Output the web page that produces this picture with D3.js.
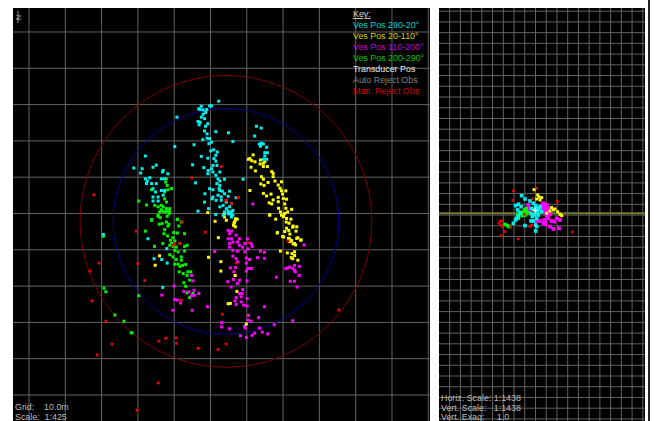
<!DOCTYPE html>
<html><head><meta charset="utf-8">
<script src="https://cdn.jsdelivr.net/npm/d3@7"></script>
<style>html,body{margin:0;padding:0;background:#fff;overflow:hidden}svg{display:block}text{font-family:"Liberation Sans",Arial,sans-serif}</style>
</head><body><svg id="c" width="654" height="421"></svg>
<script>
// Plan view: [easting m, northing m]
const planCyan=[[-2.4,29.4],[-.1,29.5],[.4,29.5],[2.4,30.8],[-2.8,28.5],[-1.9,28.4],[-.9,28.5],[-3.1,28.7],[-1.2,27.7],[-1.9,27.2],[-2.4,26.4],[-1.5,26],[-9.1,26.4],[-3.3,25.2],[-2.7,25],[-.6,24.6],[-3,24.3],[-1.2,23.9],[-1.5,22.6],[-.8,21.8],[1.6,22.4],[5.1,22.1],[-2,20.2],[-.8,20.6],[-.1,20.5],[.4,19.5],[-.3,19.1],[6.3,19.7],[-4.4,18.8],[-9.7,18.3],[.2,17.1],[1,17.4],[2,16.8],[1.6,15.9],[1.1,15],[1.6,14.3],[-2.4,15.6],[-.6,15.1],[-4.8,13.3],[-1.7,12.5],[.8,13.1],[1.9,13.1],[.4,12.2],[-.5,11.7],[-.6,10.8],[.8,11.3],[2.7,11.3],[1.6,10.4],[2.2,9.4],[2.7,8.8],[4,9.3],[9.1,9.3],[-4,8.3],[1.9,8.1],[2.7,7.6],[2.5,6.7],[-.1,6.7],[.8,6.4],[-1.4,5.3],[2.7,6.2],[3.4,6],[4,5.3],[5.4,6],[2.2,4.9],[3.1,4.4],[5,4.6],[7.2,4.2],[.8,4.4],[-1.5,3],[1.7,3.5],[3.1,3.5],[4.5,3],[5.9,2.6],[.6,3.9],[3.6,2.1],[5.4,1.7],[-.4,1.2],[-3.3,.5],[2.7,1.7],[4.5,1.2],[6.3,.7],[4,.3],[1.6,-.4],[5,-.2],[5.9,-.6],[3.6,-.6],[5,.5],[5.9,.3],[5.4,-.2],[6.3,-.6],[5.9,-1.1],
[-17.1,-7.1],[-15.4,-12.6],[-13.3,-12.8],[-11.8,-13.8],[-11.9,-9.8],[-13,-20.5],[-29.4,-5.9],
[-17.8,15.7],[-21,12.4],[-18.7,12.2],[-19.1,11],[-15.7,12.6],[-14.8,13.2],[-13.1,11.3],[-12.9,11.7],[-11.6,10.8],[-17.8,9.4],[-17.3,8.8],[-16.6,9.7],[-17.5,8.1],[-16.1,8.1],[-14.8,8.1],[-15.7,6.7],[-12.5,9.4],[-13.4,9.4],[-15.7,4.4],[-15.7,3.3],[-14.3,3.3],[-15,5.8],[-13.4,6.2],[-12.5,6.2],[-14.3,4.4],[-12.9,4.9],
[12.8,23.9],[14.1,23.4],[12.3,21.2],[14.2,19.2],[13.6,19],[14.7,19],[13.9,18.4],[15.6,18.1],[15.1,16.6],[15.8,16.6],[15.1,15.7],[15.6,14.8],[14.7,14.8]];
const planYellow=[[10.6,14.8],[11,15],[11.9,16],[11.5,14.4],[12.4,14.1],[13.9,14.6],[13.8,13.5],[14.7,13.7],[15.1,14.1],[14.7,12.8],[15.8,12.8],[11.3,12.6],[12.5,11.6],[17,11.4],[17.4,10.9],[14.2,10],[14.7,9.3],[14,8],[14.9,7.6],[17.4,10],[16,8.4],[17.9,8.8],[19.7,8.6],[18.8,7.7],[19.3,6.8],[20.9,6.1],[19.7,6.1],[11,6.2],[14.7,5.4],[16.8,5.2],[15.6,4.7],[20,5.2],[18.8,4.3],[17.4,3.6],[16.3,2.8],[17,2.5],[20.2,4],[21.1,3.8],[18.8,3.1],[20.6,2.5],[20.9,1.3],[18.9,1.3],[22.5,1],[16.5,-.5],[19.7,-.6],[20.6,-.1],[21.1,-1.5],[20.2,-1],[22.3,-1.7],[21.8,-2.8],[22.9,-3.6],[23.9,-3.8],[21.1,-4.2],[20.6,-5.1],[23.7,-5],[18.6,-5.4],[20,-6.5],[22,-5.8],[21.6,-7],[22.5,-7.6],[23.9,-7],[25.1,-7.4],[22.9,-8.5],[22,-7.9],[23.6,-8.8],
[7,-1.9],[6.6,-2.8],[7,-3.8],[7.5,-1.7],[3.9,-.2],[4,-1.1],[4.5,-2],[7,-1.6],[6.8,-2.5],[6.5,-3.4],[1.4,-2.3],[-.6,.1],[2.3,-6.8],[-.4,-12.2],[3,-13.4],[3,-16],[-13.9,-11.8],[-15.1,-14.4],[7.4,-21.6],[5,-25],[5.6,-24.9],[10,-30.6],[6.9,-17.2],
[16.4,-.6],[18.1,-1.7],[18.5,-5.5],[19.4,-10.5],[21.3,-11],[19.4,.3],[20.3,-.6],[21.4,.3],[21,-2.5],[22.8,-3.9],[21.7,-4.8],[20.3,-6.6],[21.9,-7.1],[24.2,-6.8],[25,-7.5],[23.3,-8.4],[22.6,-11.2],[23.3,-11.7],[22.8,-12.6],[24.2,-13],[23.3,-10.7],[22.4,-12.3]];
const planMagenta=[[1.3,-10.6],[5,-4.8],[5.4,-5.7],[5.9,-5],[5,-7.1],[5.9,-7.1],[5.4,-8.4],[6.3,-8],[7.2,-6.1],[8.1,-7.1],[7.6,-8],[10.3,-7.1],[9.6,-8.4],[9,-9.4],[8.1,-8.9],[5.4,-9.4],[6.3,-10.3],[7.6,-10.5],[11.3,-8.4],[11.6,-9.2],[10.5,-9.9],[9.6,-10.7],[6.3,-11.9],[7.2,-12.6],[7.6,-13.5],[10,-12.4],[10.9,-12.8],[10,-13.8],[10.5,-15.3],[11.4,-15.3],[10,-16],[13.9,-10.5],[15,-10.8],[13.1,-12.3],[15,-12.5],[5.6,-15.1],[7,-15],[6.6,-16.2],[7,-17.2],[6.4,-18.3],[8.1,-18.5],[7.6,-19.4],[4.9,-18.9],[5.8,-20.4],[10.2,-18.7],[9,-21.1],[8.8,-22.2],[8.1,-22.2],[8.6,-23.1],[7.2,-23.3],[6.9,-24.2],[10.2,-23.6],[8.6,-24.5],[7.2,-25.2],[15,-25.8],[9.3,-25.4],[10.2,-25.6],[-.7,-25.8],[10.6,-28.2],[10.5,-29.5],[11.3,-29.8],[13.4,-28.8],[3.2,-30.2],[3.2,-31.4],[5.4,-31.9],[9.5,-31.2],[9.7,-31.7],[13.6,-31.7],[17.7,-30.8],[22.8,-29.7],[14.4,-32.8],[15.9,-33.3],[12.3,-33.1],[11.6,-33.7],[8.4,-33.8],[10,-34.3],[18.3,-17.7],[20.9,-15.3],[21.5,-15.1],[25.9,-8.8],[21.9,-14.9],[23.3,-14.4],[22.8,-15.3],[24.6,-14.7],[23.5,-16.2],[24.6,-17.2],[22.1,-18.8],[23.3,-18.8],[24,-20.4],[23.3,-15.8],[11.8,2.5],
[-5.1,-17.2],[-4.7,-18.7],[-9.9,-20.1],[-13.3,-22.6],[-7.2,-21.6],[-5.8,-21.7],[-4.4,-21.3],[-3.1,-22.2],[-5.1,-22.8],[-4.2,-22.7],[-9.7,-23.8],[-9,-24],[-8.1,-24.8],[-10.2,-26.8],[-4.9,-26.8]];
const planGreen=[[-12,9.4],[-12.2,8.5],[-11.8,7.6],[-16.1,6.4],[-10.6,6.7],[-11.6,6.4],[-12.5,5.8],[-12.5,3.9],[-19.6,3.3],[-17.5,2.2],[-12,3],[-15.2,2.1],[-14.3,1.7],[-13.4,2.1],[-12,1.2],[-11.1,1.2],[-13.9,.3],[-12.5,.3],[-11.3,-.2],[-14.3,-.9],[-11.8,-.9],[-16.1,-1.8],[-13.7,-1.3],[-9,-1.7],[-12.9,1.7],[-13.4,.9],[-11.4,.6],
[-14.3,-.6],[-13,.5],[-11.8,.5],[-11.1,.3],[-16.1,-2],[-9,-1.8],[-7.9,-2.5],[-14,-3.1],[-13.2,-2.9],[-12,-2.5],[-11.3,-3.1],[-11.6,-3.6],[-8.6,-3.6],[-17.8,-5],[-12.5,-4.6],[-12.7,-5.7],[-11.7,-6.3],[-9,-5.5],[-7,-5.7],[-10,-5.4],[-10.2,-6.8],[-10.9,-7.5],[-9.7,-7.7],[-13,-8.4],[-10.6,-8.4],[-15.3,-9.2],[-11.1,-8.9],[-10.2,-9.2],[-9.3,-9.4],[-7,-9.2],[-6.3,-8.9],[-8.3,-8.4],[-9.7,-10.3],[-8.8,-10.7],[-7,-10.5],[-11.1,-11.5],[-10.2,-12.1],[-9.3,-12.8],[-7.9,-12.1],[-7.9,-13],[-8.8,-14.1],[-9.7,-14.1],[-8.3,-14.7],[-7.6,-14.4],[-6.7,-14.2],[-8.5,-16.2],[-7.4,-16.7],[-6.1,-16.2],[-5.3,-16.2],[-6.3,-17.2],[-7.2,-19.2],[-5.6,-18.5],[-6.7,-20.2],[-6.3,-22],[-5.6,-23.3],[-4.7,-22.2],[-19.6,-22.8],[-21.7,-33],[-29.4,-6.4],[-29.2,-20.7],[-28.7,-21.7],[-26.2,-28.1],[-23.7,-29.8],[-21.5,-33]];
const planRed=[[-20.3,-5],[-1.3,-5.3],[-7.7,-2.5],[-9.7,-8.4],[-8.3,-8.4],[-10.4,-8.9],[10.5,-8.2],[-19.9,-13.9],[-18,-18.6],[-7.9,-24],[3.4,-27.9],[-14.1,-35.3],[-12.2,-34.5],[-9.3,-34.4],[-9.2,-35.9],[-3.3,-37.3],[4.4,-36.1],[2.2,-37.6],[21.5,-7.7],[7.2,-13.8],[-32,5],[-30.6,-13.8],[-33.1,-16],[-32.5,-24.2],[-28.7,-29.8],[-27,-36.1],[-31.1,-39.1],[3.1,12.8],[-5,9.7],[7.7,4.2],[4.3,3.5],[5.9,2.6],[7.8,4.3],[-14.3,-46.8],[-20.1,-54.3],[35.5,-26.7]];
// Side view: [easting m, height m]
const sideCyan=[[-12.4,17.6],[-9.3,14.5],[-4.7,12.7],[-15.5,9.6],[-18,8.3],[1.6,6.5],[4.7,7.4],[-13,7.4],[-3.1,5.8],[0,4.3],[1.6,1.2],[-14,1.2],[-15.5,-1.9],[-18,-5],[-20.2,-8.1],[1.6,-3.5],[-1.6,-6],[-3.7,-6],[1.6,-11.2],[.6,-15.3],[-9.3,-10.3],[3.1,-.4],[6.2,2.7],[-1.6,10.5],[.6,-9.7],[-.6,-.4],[-2.5,-1.9],[2.5,3.4],[.6,8.3],[-17.1,-3.5],[-16.2,4.3],[-3.7,1.2],[3.7,5.2]];
const sideYellow=[[-.9,23.2],[2.5,18.3],[3.7,16.4],[1.6,14.5],[6.2,15.8],[4.7,13.6],[15.5,6.5],[18.6,5.2],[21.1,2.7],[23.3,.2],[24.9,-1],[17.1,4.3],[14,3.4],[10.9,1.2]];
const sideMagenta=[[-6.2,8.9],[-4.7,5.2],[7.8,10.5],[10.9,8.9],[9.3,5.8],[12.4,5.8],[9.3,2.7],[14,.2],[10.9,-1],[8.7,-5],[9.9,-9.1],[14,-11.2],[17.1,-13.4],[22.4,-12.8],[12.4,-3.5],[15.5,-6],[4.7,-6],[1.6,-6],[20.2,-3.5],[18,-6.6],[23.3,-5],[12.4,1.2],[6.2,5.8],[9.3,-7.2],[7.8,-8.2],[11.8,3.4],[8.7,8.3],[6.8,8.9],[10.9,5.8]];
const sideGreen=[[-28,-9.1],[-25.5,-10.3],[-24.2,-11.2],[-16.2,-.4],[-13,1.2],[-9.9,4.3],[-7.8,5.8],[-6.2,2.7],[-9.3,-.4],[-11.8,-1],[-14,2.1],[-7.8,1.2],[-15.5,-3.5],[-10.9,2.1],[-8.7,3.4]];
const sideRed=[[-20.2,22],[-20.8,13.3],[20.8,12.1],[-2.5,14.5],[1.6,24.5],[34.8,-16.2],[-32.6,-6],[-30.4,-6],[-33.6,-8.1],[-31.7,-9.7],[-30.4,-11.3],[-22.7,-11.3],[-28,-15.9],[-9.9,.2],[-4.7,-11.2],[-3.1,-9.7],[-15.8,-22.7],[-31.7,-19.7]];
const transducer=[[0,4]];
const planGridE=[-50,-40,-30,-20,-10,0,10,20,30,40,50,60];
const planGridN=[50,40,30,20,10,0,-10,-20,-30,-40,-50];
const sideGridE=[-80,-70,-60,-50,-40,-30,-20,-10,0,10,20,30,40,50,60,70,80,90,100];
const sideGridH=[190,180,170,160,150,140,130,120,110,100,90,80,70,60,50,40,30,20,10,0,-10,-20,-30,-40,-50,-60,-70,-80,-90,-100,-110,-120,-130,-140,-150,-160,-170,-180,-190];
const circleCentre=[4.4,-2.3];
const circleRadii=[{r:31.1,c:"#000090"},{r:40.2,c:"#7a0000"}];
const surfaceHeight=1.2;
const legendLabels=["Ves Pos 290-20°","Ves Pos 20-110°","Ves Pos 110-200°","Ves Pos 200-290°","Transducer Pos","Auto Reject Obs","Man. Reject Obs"];
const legendColors=["#00d0d0","#d0d000","#c000d0","#00c800","#e8e8e8","#808080","#d00000"];
const planNotes=["Grid:    10.0m","Scale:  1:425"];
const sideNotes=["Horiz. Scale: 1:1438","Vert. Scale:   1:1438","Vert. Exag:     1.0"];

const svg=d3.select("#c");
const P={l:13,r:430,t:8,b:421},S={l:439,r:645,t:8,b:421};
const px=d3.scaleLinear().domain([-54.27,60.61]).range([P.l,P.r]);
const py=d3.scaleLinear().domain([56.47,-57.3]).range([P.t,P.b]);
const sx=d3.scaleLinear().domain([-89.47,102.52]).range([S.l,S.r]);
const sy=d3.scaleLinear().domain([192.5,-192.4]).range([S.t,S.b]);
const grid="#626262";
function panel(R,id){
  svg.append("rect").attr("x",R.l).attr("y",R.t).attr("width",R.r-R.l).attr("height",R.b-R.t).attr("fill","#000");
  svg.append("clipPath").attr("id",id).append("rect").attr("x",R.l).attr("y",R.t).attr("width",R.r-R.l).attr("height",R.b-R.t);
  return svg.append("g").attr("clip-path",`url(#${id})`);
}
function drawGrid(g,x,y,ev,nv,R){
  const a=g.append("g").attr("transform",`translate(0,${R.b})`).call(d3.axisBottom(x).tickValues(ev).tickSize(-(R.b-R.t)).tickFormat(""));
  const b=g.append("g").attr("transform",`translate(${R.l},0)`).call(d3.axisLeft(y).tickValues(nv).tickSize(-(R.r-R.l)).tickFormat(""));
  [a,b].forEach(s=>{s.select(".domain").remove();s.selectAll("line").attr("stroke",grid).attr("stroke-width",1);});
}
function dots(g,data,x,y,color,size){
  g.append("g").selectAll("rect").data(data).join("rect")
   .attr("x",d=>x(d[0])-size/2).attr("y",d=>y(d[1])-size/2)
   .attr("width",size).attr("height",size).attr("fill",color);
}
const gp=panel(P,"cp");
drawGrid(gp,px,py,planGridE,planGridN,P);
const scaleK=px(1)-px(0);
gp.selectAll("circle").data(circleRadii).join("circle")
  .attr("cx",px(circleCentre[0])).attr("cy",py(circleCentre[1])).attr("r",d=>d.r*scaleK)
  .attr("fill","none").attr("stroke",d=>d.c).attr("stroke-width",1);
dots(gp,planGreen,px,py,"#00f000",3);
dots(gp,planMagenta,px,py,"#ff00ff",3);
dots(gp,planYellow,px,py,"#ffff00",3);
dots(gp,planCyan,px,py,"#00f0f0",3);
dots(gp,planRed,px,py,"#f00000",2.8);
// north mark
const north=gp.append("g").attr("transform","translate(18,17)");
north.append("line").attr("x1",0).attr("x2",0).attr("y1",-6).attr("y2",6).attr("stroke","#999");
north.append("text").attr("transform","rotate(-90)").attr("x",-3).attr("y",3).attr("font-size",7).attr("fill","#aaa").text("N");

const gs=panel(S,"cs");
drawGrid(gs,sx,sy,sideGridE,sideGridH,S);
gs.append("line").attr("x1",S.l).attr("x2",S.r).attr("y1",sy(surfaceHeight)).attr("y2",sy(surfaceHeight)).attr("stroke","#77772f").attr("stroke-width",2);
dots(gs,sideGreen,sx,sy,"#00f000",3.6);
dots(gs,sideMagenta,sx,sy,"#ff00ff",3.8);
dots(gs,sideYellow,sx,sy,"#ffff00",3);
dots(gs,sideCyan,sx,sy,"#00f0f0",3.6);
dots(gs,sideRed,sx,sy,"#f00000",2.6);
gs.selectAll("path.t").data(transducer).join("path").attr("class","t")
  .attr("d",d=>`M${sx(d[0])-3},${sy(d[1])}h6M${sx(d[0])},${sy(d[1])-3}v6`).attr("stroke","#fff");

// legend
const fs=8.9;
gp.append("text").attr("x",353).attr("y",17).attr("font-size",fs).attr("fill","#d8d8d8").attr("text-decoration","underline").text("Key:");
gp.selectAll("text.l").data(legendLabels).join("text").attr("class","l")
  .attr("x",353).attr("y",(d,i)=>28+i*11).attr("font-size",fs).attr("fill",(d,i)=>legendColors[i]).text(d=>d);
gp.selectAll("text.n").data(planNotes).join("text").attr("class","n")
  .attr("x",15).attr("y",(d,i)=>410+i*10).attr("font-size",fs).attr("fill","#bbb").style("white-space","pre").text(d=>d);
gs.selectAll("text.n").data(sideNotes).join("text").attr("class","n")
  .attr("x",441).attr("y",(d,i)=>401+i*9.5).attr("font-size",fs).attr("fill","#bbb").style("white-space","pre").text(d=>d);
svg.append("rect").attr("x",648).attr("y",0).attr("width",2).attr("height",421).attr("fill","#222");
</script></body></html>
